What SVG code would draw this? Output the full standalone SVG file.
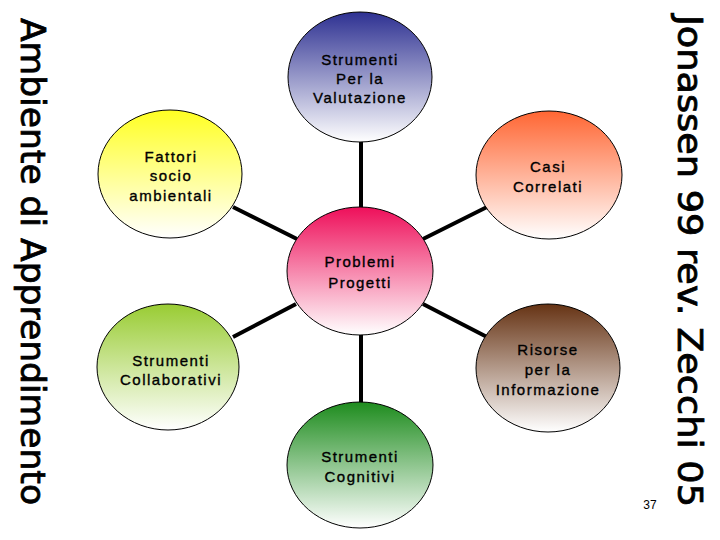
<svg xmlns="http://www.w3.org/2000/svg" width="720" height="540" viewBox="0 0 720 540">
<defs>
<linearGradient id="gBlue" x1="0" y1="0" x2="0" y2="1"><stop offset="0" stop-color="#2E3192"/><stop offset="1" stop-color="#ffffff"/></linearGradient>
<linearGradient id="gOrange" x1="0" y1="0" x2="0" y2="1"><stop offset="0" stop-color="#FF6633"/><stop offset="1" stop-color="#ffffff"/></linearGradient>
<linearGradient id="gYellow" x1="0" y1="0" x2="0" y2="1"><stop offset="0" stop-color="#FFFF22"/><stop offset="1" stop-color="#ffffff"/></linearGradient>
<linearGradient id="gPink" x1="0" y1="0" x2="0" y2="1"><stop offset="0" stop-color="#EE0F5A"/><stop offset="1" stop-color="#ffffff"/></linearGradient>
<linearGradient id="gLime" x1="0" y1="0" x2="0" y2="1"><stop offset="0" stop-color="#99CC33"/><stop offset="1" stop-color="#ffffff"/></linearGradient>
<linearGradient id="gBrown" x1="0" y1="0" x2="0" y2="1"><stop offset="0" stop-color="#663314"/><stop offset="1" stop-color="#ffffff"/></linearGradient>
<linearGradient id="gGreen" x1="0" y1="0" x2="0" y2="1"><stop offset="0" stop-color="#1E8C1E"/><stop offset="1" stop-color="#ffffff"/></linearGradient>
</defs>
<style>
.node ellipse { stroke:#000; stroke-width:1; }
.lbl { font-family:"Liberation Sans", Arial, sans-serif; font-size:15px; letter-spacing:1.5px; fill:#000; stroke:#000; stroke-width:0.35; text-anchor:middle; }
.side { font-family:"DejaVu Sans", Verdana, sans-serif; font-size:33px; fill:#000; stroke:#000; stroke-width:0.8; }
.conn line { stroke:#000; stroke-width:4; }
</style>
<rect width="720" height="540" fill="#ffffff"/>
<g id="connectors" class="conn">
<line x1="361" y1="140" x2="361" y2="210"/>
<line x1="233" y1="207" x2="297" y2="239"/>
<line x1="487" y1="207" x2="423" y2="239"/>
<line x1="296" y1="304" x2="233" y2="337"/>
<line x1="423" y1="304" x2="487" y2="337"/>
<line x1="361" y1="333" x2="361" y2="404"/>
</g>
<g id="node-valutazione" class="node">
<ellipse cx="360" cy="77" rx="72" ry="65" fill="url(#gBlue)"/>
<text class="lbl" x="360" y="65">Strumenti</text>
<text class="lbl" x="360" y="84">Per la</text>
<text class="lbl" x="360" y="103">Valutazione</text>
</g>
<g id="node-fattori" class="node">
<ellipse cx="170" cy="174" rx="72" ry="64" fill="url(#gYellow)"/>
<text class="lbl" x="171" y="162">Fattori</text>
<text class="lbl" x="171" y="181">socio</text>
<text class="lbl" x="171" y="201">ambientali</text>
</g>
<g id="node-casi" class="node">
<ellipse cx="549" cy="175" rx="73" ry="64" fill="url(#gOrange)"/>
<text class="lbl" x="548" y="172">Casi</text>
<text class="lbl" x="548" y="192">Correlati</text>
</g>
<g id="node-problemi" class="node">
<ellipse cx="360" cy="271" rx="73" ry="64" fill="url(#gPink)"/>
<text class="lbl" x="360" y="267">Problemi</text>
<text class="lbl" x="360" y="288">Progetti</text>
</g>
<g id="node-collaborativi" class="node">
<ellipse cx="168" cy="367" rx="71" ry="63" fill="url(#gLime)"/>
<text class="lbl" x="171" y="366">Strumenti</text>
<text class="lbl" x="171" y="385">Collaborativi</text>
</g>
<g id="node-risorse" class="node">
<ellipse cx="548" cy="368" rx="72" ry="64" fill="url(#gBrown)"/>
<text class="lbl" x="548" y="355">Risorse</text>
<text class="lbl" x="548" y="375">per la</text>
<text class="lbl" x="548" y="395">Informazione</text>
</g>
<g id="node-cognitivi" class="node">
<ellipse cx="360" cy="465" rx="73" ry="63" fill="url(#gGreen)"/>
<text class="lbl" x="360" y="462">Strumenti</text>
<text class="lbl" x="360" y="482">Cognitivi</text>
</g>
<text class="side" transform="translate(21,18) rotate(90)" textLength="487" lengthAdjust="spacingAndGlyphs">Ambiente di Apprendimento</text>
<text class="side" transform="translate(678,15) rotate(90)" textLength="492" lengthAdjust="spacingAndGlyphs">Jonassen 99 rev. Zecchi 05</text>
<text x="650" y="509" font-family="Liberation Sans, Arial, sans-serif" font-size="12" text-anchor="middle" fill="#000">37</text>
</svg>
